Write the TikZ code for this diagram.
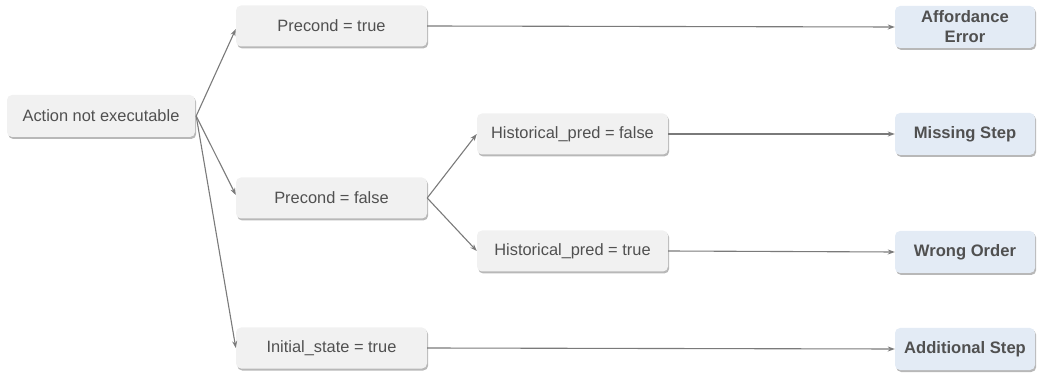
\documentclass[tikz,border=0pt]{standalone}
\usepackage{fontspec}
\setmainfont{Liberation Sans}
\usetikzlibrary{arrows.meta,shadows}
\definecolor{boxfill}{HTML}{F1F1F1}
\definecolor{bluefill}{HTML}{E3EBF5}
\definecolor{txt}{HTML}{505050}
\definecolor{lin}{HTML}{7A7A7A}
\tikzset{
  base/.style={rounded corners=5pt, inner sep=0pt, align=center, text=txt,
    drop shadow={shadow xshift=1.2pt, shadow yshift=-2pt, fill=black!35, opacity=0.8}},
  cond/.style={base, fill=boxfill, minimum width=191pt, minimum height=41pt,
    font=\fontsize{16.4}{19}\selectfont},
  res/.style={base, fill=bluefill, minimum width=140pt, minimum height=42pt,
    font=\bfseries\fontsize{16.6}{20}\selectfont},
  conn/.style={draw=lin, line width=1.1pt, -{Stealth[length=7pt,width=5pt]}}
}
\begin{document}
\begin{tikzpicture}[x=1pt,y=1pt]
\useasboundingbox (0,0) rectangle (1039,375);
\node[cond, minimum width=188pt, minimum height=42pt] (act) at (101,259) {Action not executable};
\node[cond] (pt) at (331.5,349) {Precond = true};
\node[cond] (pf) at (331.5,177) {Precond = false};
\node[cond] (is) at (331.5,27) {Initial\_state = true};
\node[cond] (hf) at (572.5,241) {Historical\_pred = false};
\node[cond] (ht) at (572.5,124) {Historical\_pred = true};
\node[res] (ae) at (965,348) {Affordance\\Error};
\node[res] (ms) at (965,241) {Missing Step};
\node[res] (wo) at (965,123) {Wrong Order};
\node[res] (as) at (965,26) {Additional Step};
\coordinate (src) at ([xshift=1pt]act.east);
\draw[conn] (src) -- ([yshift=-3pt]pt.west);
\draw[conn] (src) -- ([yshift=3pt]pf.west);
\draw[conn] (src) -- (is.west);
\draw[conn] (pf.east) -- (hf.west);
\draw[conn] (pf.east) -- (ht.west);
\draw[conn] (pt.east) -- (ae.west);
\draw[conn] (hf.east) -- (ms.west);
\draw[conn] (ht.east) -- (wo.west);
\draw[conn] (is.east) -- (as.west);
\end{tikzpicture}
\end{document}
